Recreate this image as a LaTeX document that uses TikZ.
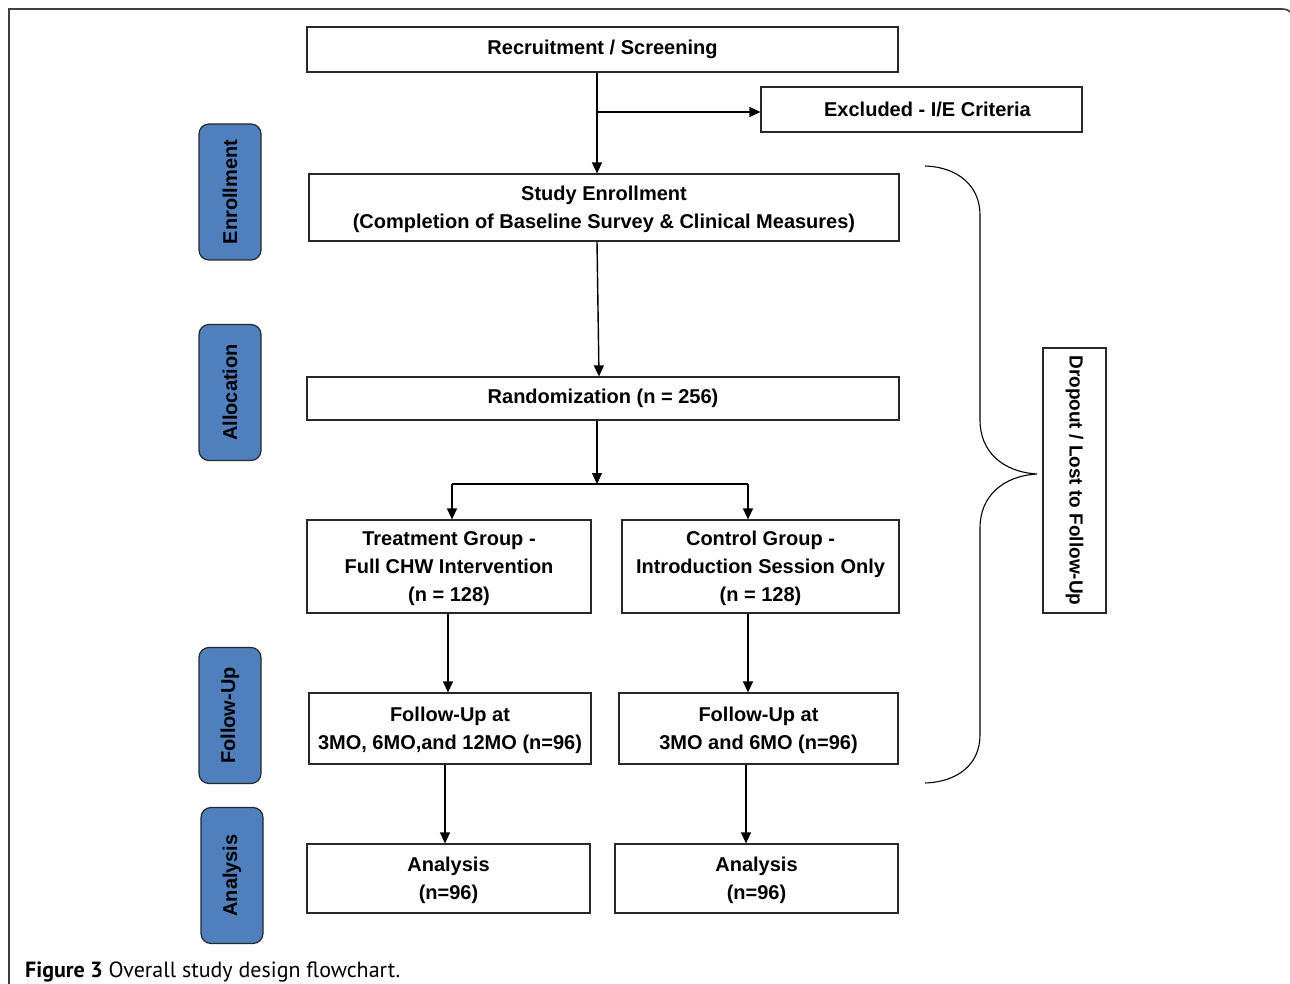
\documentclass[tikz,border=0pt]{standalone}
\usepackage{fontspec}
\setmainfont{Liberation Sans}
\newfontfamily\capfont{PT Sans}
\usetikzlibrary{arrows.meta,calc}
\definecolor{lblblue}{RGB}{79,128,189}
\definecolor{boxline}{RGB}{40,40,40}
\begin{document}
\begin{tikzpicture}[x=1pt,y=-1pt,
  every node/.style={font=\bfseries\fontsize{20}{28}\selectfont, align=center, inner sep=0pt},
  flowbox/.style={draw=boxline, line width=1.2pt, fill=white},
  multibox/.style={flowbox, text depth=0pt},
  lbl/.style={draw=boxline, line width=1.2pt, fill=lblblue, rounded corners=10pt, rotate=90, minimum width=136pt, minimum height=62pt},
  arr/.style={draw=black, line width=1.4pt, -{Triangle[length=11pt,width=10pt]}},
  ln/.style={draw=black, line width=1.4pt}]
\useasboundingbox (0,0) rectangle (1290,984);
\draw[line width=1.6pt, draw=black!75] (9,1010) -- (9,9) [rounded corners=14pt] -- (1296,9) -- (1296,1010);

% flow boxes
\node[flowbox, minimum width=591pt, minimum height=45pt] (rec) at (602.5,49.5) {Recruitment / Screening};
\node[flowbox, minimum width=321pt, minimum height=45pt] (exc) at (921.5,109.5) {\hspace*{12pt}Excluded - I/E Criteria};
\node[multibox, minimum width=590pt, minimum height=67pt] (enr) at (604,207.5) {Study Enrollment\\(Completion of Baseline Survey \& Clinical Measures)};
\node[flowbox, minimum width=592pt, minimum height=43pt] (ran) at (603,398.5) {Randomization (n = 256)};
\node[multibox, minimum width=284pt, minimum height=93pt] (trt) at (449,566.5) {Treatment Group -\\Full CHW Intervention\\(n = 128)};
\node[multibox, minimum width=277pt, minimum height=93pt] (ctl) at (760.5,566.5) {Control Group -\\Introduction Session Only\\(n = 128)};
\node[multibox, minimum width=282pt, minimum height=71pt] (fua) at (450,728.5) {Follow-Up at\\3MO, 6MO,and 12MO (n=96)};
\node[multibox, minimum width=279pt, minimum height=71pt] (fub) at (758.5,728.5) {Follow-Up at\\3MO and 6MO (n=96)};
\node[multibox, minimum width=283pt, minimum height=69pt] (ana) at (448.5,878.5) {Analysis\\(n=96)};
\node[multibox, minimum width=283pt, minimum height=69pt] (anb) at (756.5,878.5) {Analysis\\(n=96)};

% stage labels
\node[lbl] (l1) at (230,192) {Enrollment};
\node[lbl] (l2) at (230,392.5) {Allocation};
\node[lbl] (l3) at (230,715.5) {Follow-Up};
\node[lbl] (l4) at (232,875.5) {Analysis};

% dropout
\node[flowbox, rotate=-90, minimum width=265pt, minimum height=63pt, font=\bfseries\fontsize{19}{24}\selectfont] (drop) at (1074.5,480.5) {Dropout / Lost to Follow-Up};

% connectors
\coordinate (r0) at ([xshift=-5.5pt]rec.south);
\coordinate (rb) at (r0 |- 0,112);
\draw[arr] (r0) -- (r0 |- enr.north);
\draw[arr] (rb) -- (rb -| exc.west);
\coordinate (e0) at ([xshift=-7pt]enr.south);
\draw[arr] (e0) -- ([xshift=-4pt]ran.north);
\coordinate (s0) at ([xshift=-6pt]ran.south);
\coordinate (s1) at (s0 |- 0,484);
\coordinate (sl) at ([xshift=3pt]trt.north |- s1);
\coordinate (sr) at ([xshift=-12.5pt]ctl.north |- s1);
\draw[arr] (s0) -- (s1);
\draw[ln] (sl) -- (sr);
\draw[arr] (sl) -- (sl |- trt.north);
\draw[arr] (sr) -- (sr |- ctl.north);
\coordinate (t0) at ([xshift=-1pt]trt.south);
\draw[arr] (t0) -- (t0 |- fua.north);
\coordinate (c0) at ([xshift=-12.5pt]ctl.south);
\draw[arr] (c0) -- (c0 |- fub.north);
\coordinate (f0) at ([xshift=-5pt]fua.south);
\draw[arr] (f0) -- (f0 |- ana.north);
\coordinate (g0) at ([xshift=-12.5pt]fub.south);
\draw[arr] (g0) -- (g0 |- anb.north);

% brace
\draw[line width=1.1pt] (925,166) .. controls (958,167) and (980,186) .. (980,215) -- (980,420)
  .. controls (980,452) and (1003,472) .. (1037,474)
  .. controls (1003,476) and (980,496) .. (980,528) -- (980,735)
  .. controls (980,764) and (958,782) .. (925,783);

% caption
\node[anchor=base west, font=\capfont\fontsize{22}{24}\selectfont] (cap) at (25,977) {\textbf{Figure 3} Overall study design flowchart.};
\end{tikzpicture}
\end{document}
